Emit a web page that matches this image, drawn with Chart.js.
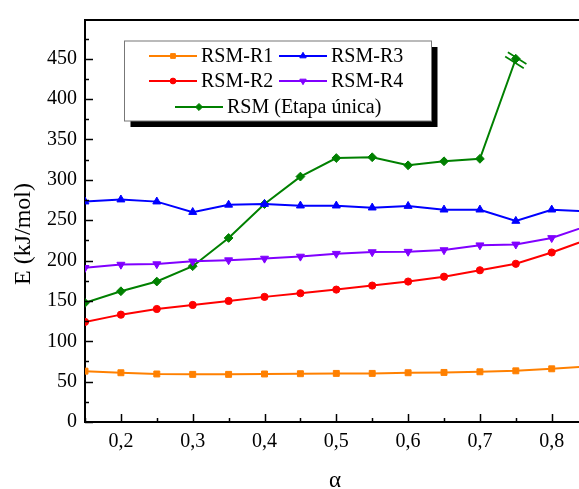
<!DOCTYPE html>
<html>
<head>
<meta charset="utf-8">
<script src="https://cdn.jsdelivr.net/npm/chart.js@4.4.1/dist/chart.umd.min.js"></script>
<style>
  html, body { margin: 0; padding: 0; background: #fff; }
  #wrap { width: 579px; height: 489px; }
</style>
</head>
<body>
<div id="wrap"><canvas id="grafico"></canvas></div>
<script>
// conversión α y energía de activación E (kJ/mol)
const alfa = [0.15, 0.2, 0.25, 0.3, 0.35, 0.4, 0.45, 0.5, 0.55, 0.6, 0.65, 0.7, 0.75, 0.8, 0.85];
const rsmR1 = [63, 61, 59.5, 59, 59, 59.5, 59.8, 60.2, 60.2, 61, 61.4, 62.2, 63.4, 65.9, 69];
const rsmR3 = [273, 275.5, 273, 260, 269, 270, 268, 268, 265.5, 267.5, 263, 263, 249, 263, 261];
const rsmR2 = [124, 133, 140, 145, 150, 155, 159.5, 164, 169, 174, 180, 188, 196, 210, 226];
const rsmR4 = [191, 195, 195.6, 199, 200.5, 202.5, 205, 208.5, 210.5, 211, 213, 219, 220, 228, 243];
const rsmUnica = [147.6, 162, 174, 193, 228, 270, 304, 327, 328, 318, 323, 326, 450];

const series = [
  { nombre: 'RSM-R1', valores: rsmR1, color: '#FF8000', punto: 'rect', radio: 4.2, giro: 0 },
  { nombre: 'RSM-R3', valores: rsmR3, color: '#0000FF', punto: 'triangle', radio: 4.6, giro: 0 },
  { nombre: 'RSM-R2', valores: rsmR2, color: '#FF0000', punto: 'circle', radio: 3.6, giro: 0 },
  { nombre: 'RSM-R4', valores: rsmR4, color: '#8000FF', punto: 'triangle', radio: 4.6, giro: 180 },
  { nombre: 'RSM (Etapa única)', valores: rsmUnica, color: '#008000', punto: 'rectRot', radio: 4.4, giro: 0 }
];

const FUENTE = 'Liberation Serif, Times New Roman, serif';

const datasets = series.map(s => ({
  label: s.nombre,
  data: s.valores.map((v, i) => ({ x: alfa[i], y: v })),
  borderColor: s.color,
  backgroundColor: s.color,
  borderWidth: 2,
  pointStyle: s.punto,
  pointRadius: s.radio,
  pointRotation: s.giro,
  pointBorderWidth: 1,
  tension: 0
}));

const esMultiplo = (v, paso) => Math.abs(v / paso - Math.round(v / paso)) < 1e-6;

// marco, ticks hacia dentro, títulos de ejes, corte y leyenda
const marcoPlugin = {
  id: 'marco',
  afterDatasetsDraw(chart) {
    const { ctx } = chart;
    const meta = chart.getDatasetMeta(4);
    const p = meta.data[meta.data.length - 1];
    if (!p) return;
    const ang = Math.atan2(35, 55);
    const dx = Math.cos(ang) * 11, dy = Math.sin(ang) * 11;
    const ox = -Math.sin(ang) * 2.5, oy = Math.cos(ang) * 2.5;
    ctx.save();
    ctx.strokeStyle = '#008000';
    ctx.lineWidth = 1.6;
    [-1, 1].forEach(sg => {
      ctx.beginPath();
      ctx.moveTo(p.x - dx + sg * ox, p.y - dy + sg * oy + 1.5);
      ctx.lineTo(p.x + dx + sg * ox, p.y + dy + sg * oy + 1.5);
      ctx.stroke();
    });
    ctx.restore();
  },
  afterDraw(chart) {
    const { ctx, chartArea: a, scales: { x, y } } = chart;
    ctx.save();
    ctx.strokeStyle = '#000';
    ctx.lineWidth = 2;
    ctx.beginPath();
    ctx.moveTo(a.left - 1, a.top);
    ctx.lineTo(a.right, a.top);
    ctx.stroke();

    ctx.lineWidth = 1.5;
    x.ticks.forEach(t => {
      if (!esMultiplo(t.value, 0.05)) return;
      const px = Math.round(x.getPixelForValue(t.value)) + 0.5;
      const largo = esMultiplo(t.value, 0.1) ? 8 : 4;
      ctx.beginPath();
      ctx.moveTo(px, a.bottom);
      ctx.lineTo(px, a.bottom - largo);
      ctx.stroke();
    });
    y.ticks.forEach(t => {
      if (!esMultiplo(t.value, 25)) return;
      const py = Math.round(y.getPixelForValue(t.value)) + 0.5;
      const largo = esMultiplo(t.value, 50) ? 8 : 4;
      ctx.beginPath();
      ctx.moveTo(a.left, py);
      ctx.lineTo(a.left + largo, py);
      ctx.stroke();
    });

    // títulos
    ctx.fillStyle = '#000';
    ctx.font = '23px ' + FUENTE;
    ctx.textAlign = 'center';
    ctx.textBaseline = 'alphabetic';
    ctx.fillText('α', 335, 487);
    ctx.translate(30, 234);
    ctx.rotate(-Math.PI / 2);
    ctx.font = '24px ' + FUENTE;
    ctx.fillText('E (kJ/mol)', 0, 0);
    ctx.restore();

    // leyenda con sombra
    const caja = { x: 124.5, y: 41, w: 307, h: 80 };
    ctx.save();
    ctx.fillStyle = '#000';
    ctx.fillRect(caja.x + 6, caja.y + 6, caja.w, caja.h);
    ctx.fillStyle = '#fff';
    ctx.fillRect(caja.x, caja.y, caja.w, caja.h);
    ctx.strokeStyle = '#777';
    ctx.lineWidth = 1;
    ctx.strokeRect(caja.x, caja.y, caja.w, caja.h);

    const filas = [
      { i: 0, x: 149, y: 56 },
      { i: 1, x: 279, y: 56 },
      { i: 2, x: 149, y: 81 },
      { i: 3, x: 279, y: 81 },
      { i: 4, x: 175, y: 107 }
    ];
    ctx.font = '20px ' + FUENTE;
    ctx.textAlign = 'left';
    ctx.textBaseline = 'middle';
    filas.forEach(f => {
      const ds = chart.data.datasets[f.i];
      ctx.strokeStyle = ds.borderColor;
      ctx.fillStyle = ds.borderColor;
      ctx.lineWidth = 2;
      ctx.beginPath();
      ctx.moveTo(f.x, f.y);
      ctx.lineTo(f.x + 48, f.y);
      ctx.stroke();
      ctx.lineWidth = 1;
      Chart.helpers.drawPoint(ctx, {
        pointStyle: ds.pointStyle,
        rotation: ds.pointRotation,
        radius: ds.pointRadius * 0.8,
        borderWidth: 1
      }, f.x + 24, f.y);
      ctx.fillStyle = '#000';
      ctx.fillText(ds.label, f.x + 52, f.y + 1);
    });
    ctx.restore();
  }
};

new Chart(document.getElementById('grafico'), {
  type: 'line',
  data: { datasets },
  options: {
    responsive: true,
    maintainAspectRatio: false,
    animation: false,
    layout: { autoPadding: false, padding: { top: 13, left: 0, right: 0, bottom: 0 } },
    plugins: {
      legend: { display: false },
      tooltip: { enabled: false }
    },
    scales: {
      x: {
        type: 'linear',
        min: 0.15,
        max: 0.838,
        grid: { display: false, drawTicks: false },
        border: { display: true, color: '#000', width: 2 },
        ticks: {
          stepSize: 0.05,
          includeBounds: false,
          autoSkip: false,
          maxRotation: 0,
          padding: 8,
          color: '#000',
          font: { family: FUENTE, size: 20 },
          callback: v => (esMultiplo(v, 0.1) ? v.toFixed(1).replace('.', ',') : '')
        },
        afterFit: s => { s.height = 67; s.paddingRight = 0; }
      },
      y: {
        min: 0,
        max: 498,
        grid: { display: false, drawTicks: false },
        border: { display: true, color: '#000', width: 2 },
        ticks: {
          stepSize: 25,
          includeBounds: false,
          autoSkip: false,
          padding: 8,
          color: '#000',
          font: { family: FUENTE, size: 20 },
          callback: v => (esMultiplo(v, 50) ? String(v) : '')
        },
        afterFit: s => { s.width = 85; }
      }
    }
  },
  plugins: [marcoPlugin]
});
</script>
</body>
</html>
